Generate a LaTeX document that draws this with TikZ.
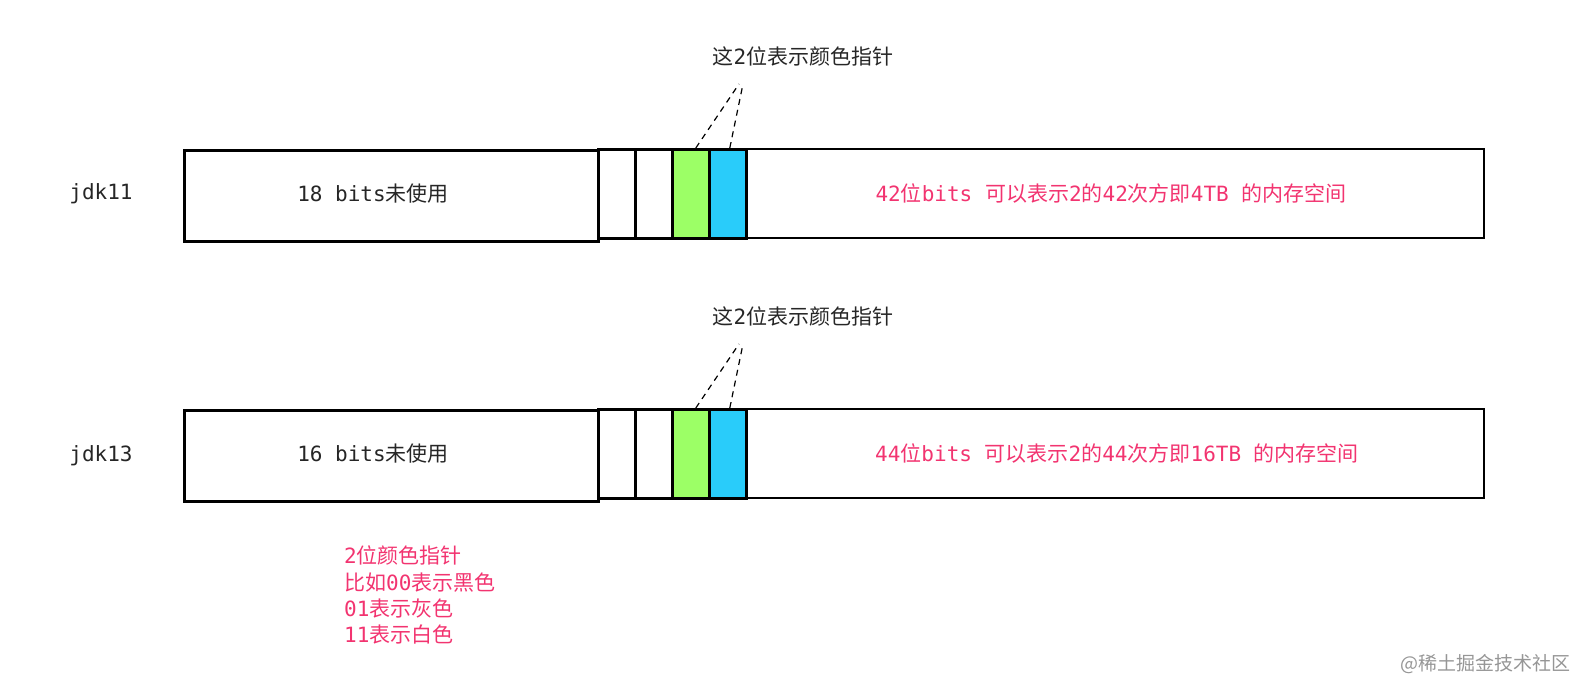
\documentclass[tikz,border=0pt]{standalone}
\usepackage{fontspec}
\setmainfont{Noto Sans CJK SC}
\newfontfamily\latfont{DejaVu Sans Mono}
\newcommand\lat[1]{{\latfont #1}}
\usepackage{xcolor}
\usepackage{tikz}
\usetikzlibrary{calc}
\definecolor{ptrgreen}{RGB}{156,255,102}
\definecolor{ptrblue}{RGB}{41,204,250}
\definecolor{addrpink}{RGB}{242,52,112}
\definecolor{markgray}{RGB}{150,150,150}

\begin{document}
\begin{tikzpicture}[x=1pt,y=-1pt,
  font=\fontsize{21}{25}\selectfont,
  every node/.style={inner sep=0pt},
  hibox/.style={draw,line width=2.6pt,anchor=north west,minimum width=414pt,minimum height=91pt},
  cellbox/.style={draw,line width=2.6pt,anchor=north west,minimum width=37pt,minimum height=89pt},
  addrbox/.style={draw,line width=1.6pt,anchor=north west,minimum width=738pt,minimum height=89pt},
  ptrline/.style={line width=1.2pt,dash pattern=on 6pt off 5pt},
  pinktxt/.style={text=addrpink},
  darktxt/.style={text=black!85}]
  \useasboundingbox (0,0) rectangle (1588,680);
  % jdk11
  \node[hibox] (hi11) at (183,149) {};
  \node[cellbox] (ca11) at (597,148) {};
  \node[cellbox] (cb11) at (634,148) {};
  \node[cellbox,fill=ptrgreen] (cg11) at (671,148) {};
  \node[cellbox,fill=ptrblue] (cu11) at (708,148) {};
  \node[addrbox] (ad11) at (745,148) {};
  \node[darktxt] (jdk11) at (101,194) {\lat{jdk11}};
  \node[darktxt] (hi11t) at (373,194) {\lat{18 bits}未使用};
  \node[pinktxt] (ad11t) at (1111,194) {\lat{42}位\lat{bits }可以表示\lat{2}的\lat{42}次方即\lat{4TB }的内存空间};
  \node[darktxt] (ptr11t) at (803,56) {这\lat{2}位表示颜色指针};
  \coordinate (tip11a) at (739,84);
  \coordinate (tip11b) at (743,84);
  \draw[ptrline] ([xshift=5pt]cg11.north) -- (tip11a);
  \draw[ptrline] ([xshift=2pt]cu11.north) -- (tip11b);
  % jdk13
  \node[hibox] (hi13) at (183,409) {};
  \node[cellbox] (ca13) at (597,408) {};
  \node[cellbox] (cb13) at (634,408) {};
  \node[cellbox,fill=ptrgreen] (cg13) at (671,408) {};
  \node[cellbox,fill=ptrblue] (cu13) at (708,408) {};
  \node[addrbox] (ad13) at (745,408) {};
  \node[darktxt] (jdk13) at (101,456) {\lat{jdk13}};
  \node[darktxt] (hi13t) at (373,454) {\lat{16 bits}未使用};
  \node[pinktxt] (ad13t) at (1117,454) {\lat{44}位\lat{bits }可以表示\lat{2}的\lat{44}次方即\lat{16TB }的内存空间};
  \node[darktxt] (ptr13t) at (803,316) {这\lat{2}位表示颜色指针};
  \coordinate (tip13a) at (739,344);
  \coordinate (tip13b) at (743,344);
  \draw[ptrline] ([xshift=5pt]cg13.north) -- (tip13a);
  \draw[ptrline] ([xshift=2pt]cu13.north) -- (tip13b);
  % note
  \node[pinktxt,anchor=north west,align=left,font=\fontsize{21}{26.3}\selectfont] (note) at (344,546)
    {\lat{2}位颜色指针\\比如\lat{00}表示黑色\\\lat{01}表示灰色\\\lat{11}表示白色};
  \node[text=markgray,anchor=east,font=\fontsize{19}{22}\selectfont] (mark) at (1571,664) {@稀土掘金技术社区};
\end{tikzpicture}
\end{document}
